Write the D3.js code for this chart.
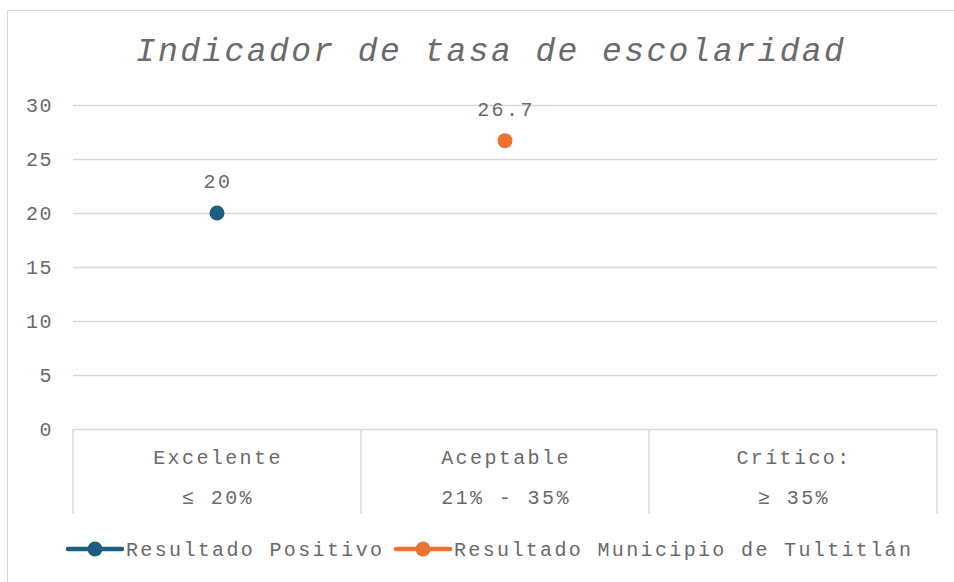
<!DOCTYPE html>
<html lang="es">
<head>
<meta charset="UTF-8"/>
<title>Indicador de tasa de escolaridad</title>
<script src="https://d3js.org/d3.v7.min.js"></script>
<style>
  body { margin: 0; background: #fff; }
  text { font-family: "Liberation Mono", "DejaVu Sans Mono", monospace; fill: #6a6a6a; }
</style>
</head>
<body>
<script>
    // data
    var categories = ["Excelente", "Aceptable", "Crítico:"];
    var ranges = ["≤ 20%", "21% - 35%", "≥ 35%"];
    var seriesNames = ["Resultado Positivo", "Resultado Municipio de Tultitlán"];
    var seriesValues = [20, 26.7];      // one point per series
    var seriesCategory = [0, 1];        // which category each point sits on
    var seriesColors = ["#1a5f80", "#ec7331"];
    var yTicks = [0, 5, 10, 15, 20, 25, 30];

    var W = 954, H = 582;
    var margin = { top: 105, right: 17, bottom: 153, left: 73 };
    var w = W - margin.left - margin.right;
    var h = H - margin.top - margin.bottom;

    var svg = d3.select("body").append("svg")
        .attr("width", W)
        .attr("height", H);

    // chart outer border
    svg.append("rect")
        .attr("x", 7.5).attr("y", 10.5)
        .attr("width", W).attr("height", H)
        .attr("fill", "none")
        .attr("stroke", "#d9d9d9");

    svg.append("text")
        .attr("x", 491).attr("y", 61)
        .attr("text-anchor", "middle")
        .style("font-size", "33px")
        .style("font-style", "italic")
        .style("letter-spacing", "2.4px")
        .text("Indicador de tasa de escolaridad");

    var g = svg.append("g")
        .attr("transform", "translate(" + margin.left + "," + margin.top + ")");

    var xScale = d3.scaleBand()
        .domain(d3.range(categories.length))
        .range([0, w]);

    var yScale = d3.scaleLinear()
        .domain([0, 30])
        .range([h, 0]);

    // gridlines
    g.selectAll(".grid")
        .data(yTicks.filter(function(d) { return d > 0; }))
        .enter().append("line")
        .attr("x1", 0).attr("x2", w)
        .attr("y1", function(d) { return Math.round(yScale(d)) + 0.5; })
        .attr("y2", function(d) { return Math.round(yScale(d)) + 0.5; })
        .attr("stroke", "#d9d9d9")
        .attr("stroke-width", 1.5);

    // y tick labels
    g.selectAll(".ylab")
        .data(yTicks)
        .enter().append("text")
        .attr("x", -20)
        .attr("y", function(d) { return yScale(d); })
        .attr("dy", "0.35em")
        .attr("text-anchor", "end")
        .style("font-size", "20px")
        .style("letter-spacing", "1.5px")
        .text(function(d) { return d; });

    // x axis base line and category separators
    g.append("line")
        .attr("x1", 0).attr("x2", w)
        .attr("y1", h + 0.5).attr("y2", h + 0.5)
        .attr("stroke", "#d9d9d9")
        .attr("stroke-width", 1.5);

    g.selectAll(".sep")
        .data(d3.range(categories.length + 1))
        .enter().append("line")
        .attr("x1", function(d) { return d < categories.length ? xScale(d) : w; })
        .attr("x2", function(d) { return d < categories.length ? xScale(d) : w; })
        .attr("y1", h).attr("y2", h + 85)
        .attr("stroke", "#d9d9d9")
        .attr("stroke-width", 1.5);

    g.selectAll(".cat")
        .data(categories)
        .enter().append("text")
        .attr("x", function(d, i) { return xScale(i) + xScale.bandwidth() / 2 + 1; })
        .attr("y", h + 35)
        .attr("text-anchor", "middle")
        .style("font-size", "20px")
        .style("letter-spacing", "2.4px")
        .text(function(d) { return d; });

    g.selectAll(".rng")
        .data(ranges)
        .enter().append("text")
        .attr("x", function(d, i) { return xScale(i) + xScale.bandwidth() / 2 + 1; })
        .attr("y", h + 75)
        .attr("text-anchor", "middle")
        .style("font-size", "20px")
        .style("letter-spacing", "2.4px")
        .text(function(d) { return d; });

    // points and data labels
    seriesValues.forEach(function(v, i) {
        var cx = xScale(seriesCategory[i]) + xScale.bandwidth() / 2;
        g.append("circle")
            .attr("cx", cx)
            .attr("cy", yScale(v))
            .attr("r", 7.5)
            .attr("fill", seriesColors[i]);
        g.append("text")
            .attr("x", cx + 1)
            .attr("y", yScale(v) - 25)
            .attr("text-anchor", "middle")
            .style("font-size", "20px")
            .style("letter-spacing", "2.4px")
            .text(v);
    });

    // legend
    var legendX = [68, 396];
    var legendY = 549;
    seriesNames.forEach(function(name, i) {
        var lg = svg.append("g")
            .attr("transform", "translate(" + legendX[i] + "," + legendY + ")");
        lg.append("line")
            .attr("x1", 0).attr("x2", 54)
            .attr("y1", 0).attr("y2", 0)
            .attr("stroke", seriesColors[i])
            .attr("stroke-width", 4.5)
            .attr("stroke-linecap", "round");
        lg.append("circle")
            .attr("cx", 27).attr("cy", 0)
            .attr("r", 7.5)
            .attr("fill", seriesColors[i]);
        lg.append("text")
            .attr("x", 58).attr("y", 0)
            .attr("dy", "0.35em")
            .style("font-size", "20px")
            .style("letter-spacing", "2.35px")
            .text(name);
    });
</script>
</body>
</html>
